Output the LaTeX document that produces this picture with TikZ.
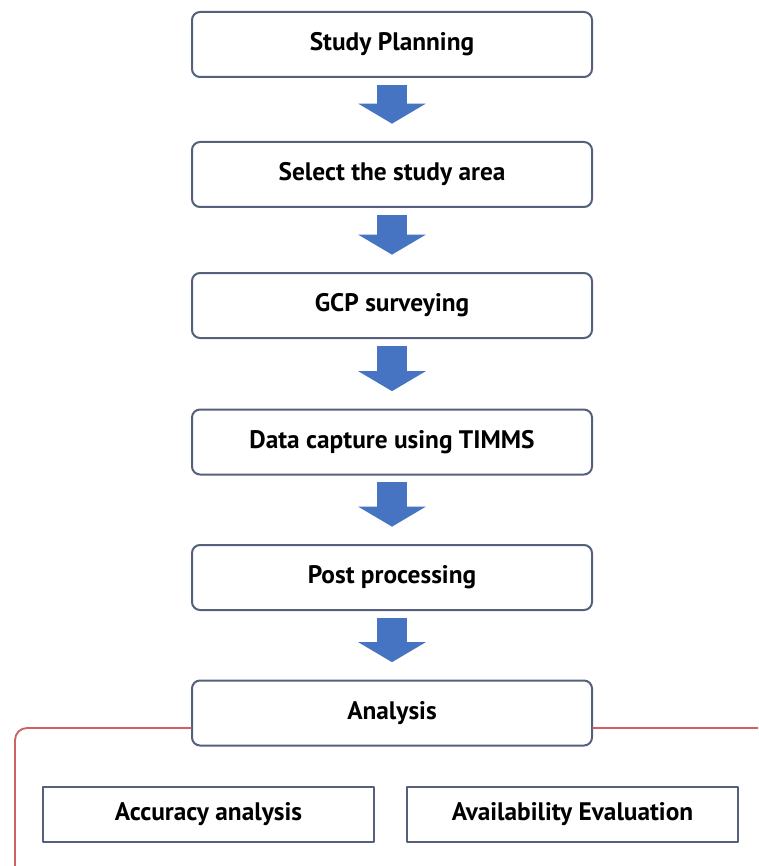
\documentclass[tikz,border=0pt]{standalone}
\usepackage{fontspec}
\setmainfont{PT Sans}
\usetikzlibrary{arrows.meta}
\definecolor{boxline}{RGB}{84,96,124}
\definecolor{flowblue}{RGB}{70,116,194}
\definecolor{framered}{RGB}{205,98,98}

\begin{document}
\begin{tikzpicture}[x=0.75pt,y=-0.75pt,line cap=round,line join=round,
  stepbox/.style={draw=boxline,line width=1.5pt,rounded corners=6pt,fill=white,
    minimum width=300pt,minimum height=48.75pt,font=\bfseries\fontsize{19}{22}\selectfont},
  subbox/.style={draw=boxline,line width=1.5pt,fill=white,
    minimum width=248pt,minimum height=41.25pt,font=\bfseries\fontsize{19}{22}\selectfont},
  downarrow/.style={draw=flowblue,line width=22pt,line cap=butt,
    -{Triangle[width=50pt,length=15pt,fill=flowblue]}}]
        \useasboundingbox (0,0) rectangle (758,866);
        \clip (0,0) rectangle (758,866);
        % steps
        \node[stepbox] (plan) at (392,44.5) {Study Planning};
        \node[stepbox] (area) at (392,174.5) {Select the study area};
        \node[stepbox] (gcp) at (392,305.5) {GCP surveying};
        \node[stepbox] (capture) at (392,442) {Data capture using TIMMS};
        \node[stepbox] (post) at (392,577.5) {Post processing};
        \node[stepbox] (analysis) at (392,713) {Analysis};
        % frame round the two analyses
        \draw[framered,line width=1.4pt,rounded corners=9pt]
          (analysis.west |- 0,728) -- (15,728) -- (15,900) -- (400,900);
        \draw[framered,line width=1.4pt] (analysis.east |- 0,728) -- (770,728);
        \node[subbox] (accuracy) at (208.5,814.5) {Accuracy analysis};
        \node[subbox] (avail) at (572.5,814.5) {Availability Evaluation};
        % arrows
        \draw[downarrow] ([yshift=-5pt]plan.south) -- ([yshift=13pt]area.north);
        \draw[downarrow] ([yshift=-5pt]area.south) -- ([yshift=13pt]gcp.north);
        \draw[downarrow] ([yshift=-5pt]gcp.south) -- ([yshift=13pt]capture.north);
        \draw[downarrow] ([yshift=-5pt]capture.south) -- ([yshift=13pt]post.north);
        \draw[downarrow] ([yshift=-5pt]post.south) -- ([yshift=13pt]analysis.north);
\end{tikzpicture}
\end{document}
